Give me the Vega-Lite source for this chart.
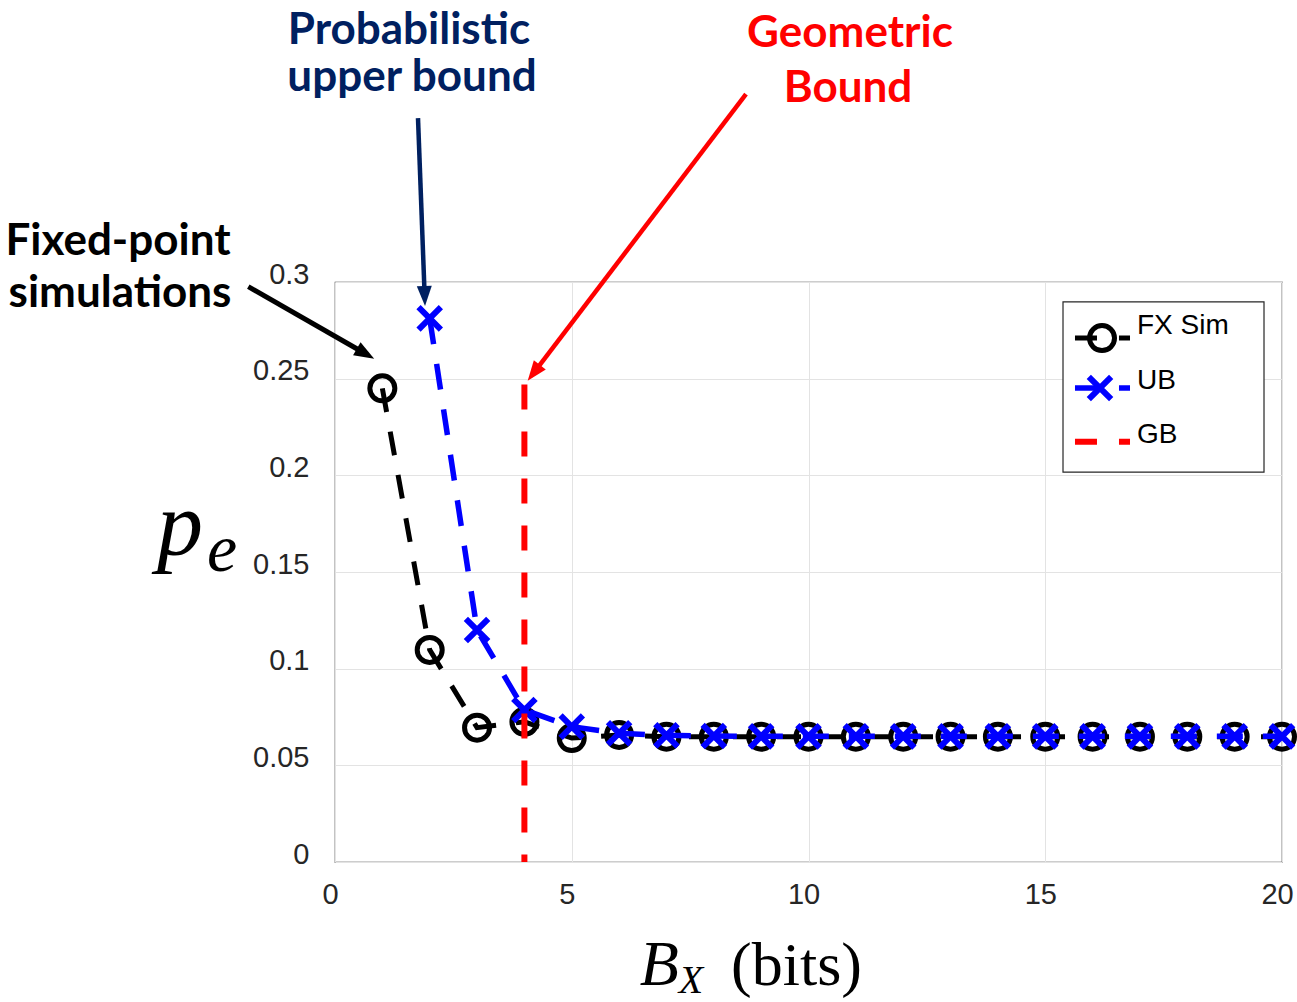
{
  "$schema": "https://vega.github.io/schema/vega-lite/v6.json",
  "width": 947,
  "height": 580,
  "autosize": {"type": "none"},
  "padding": {"left": 335, "top": 282, "right": 15, "bottom": 140},
  "background": "white",
  "config": {"view": {"stroke": "#3a3a3a", "strokeWidth": 1.2}, "font": "Liberation Sans"},
  "datasets": {
    "fx": [
      {"x": 1, "y": 0.245}, {"x": 2, "y": 0.1097}, {"x": 3, "y": 0.0695}, {"x": 4, "y": 0.0725},
      {"x": 5, "y": 0.0641}, {"x": 6, "y": 0.0657}, {"x": 7, "y": 0.0648}, {"x": 8, "y": 0.0648},
      {"x": 9, "y": 0.0648}, {"x": 10, "y": 0.0648}, {"x": 11, "y": 0.0648}, {"x": 12, "y": 0.0648},
      {"x": 13, "y": 0.0648}, {"x": 14, "y": 0.0648}, {"x": 15, "y": 0.0648}, {"x": 16, "y": 0.0648},
      {"x": 17, "y": 0.0648}, {"x": 18, "y": 0.0648}, {"x": 19, "y": 0.0648}, {"x": 20, "y": 0.0648}
    ],
    "ub": [
      {"x": 2, "y": 0.2812}, {"x": 3, "y": 0.12}, {"x": 4, "y": 0.0786}, {"x": 5, "y": 0.07},
      {"x": 6, "y": 0.0666}, {"x": 7, "y": 0.0655}, {"x": 8, "y": 0.0652}, {"x": 9, "y": 0.065},
      {"x": 10, "y": 0.065}, {"x": 11, "y": 0.065}, {"x": 12, "y": 0.065}, {"x": 13, "y": 0.065},
      {"x": 14, "y": 0.065}, {"x": 15, "y": 0.065}, {"x": 16, "y": 0.065}, {"x": 17, "y": 0.065},
      {"x": 18, "y": 0.065}, {"x": 19, "y": 0.065}, {"x": 20, "y": 0.065}
    ],
    "gb": [{"x": 4, "y": 0.247, "y2": 0}],
    "legBox": [{"x": 15.375, "x2": 19.62, "y": 0.2897, "y2": 0.2017}],
    "legFXline": [{"x": 15.628, "x2": 16.79, "y": 0.271}],
    "legFXpt": [{"x": 16.199, "y": 0.271}],
    "legUBline": [{"x": 15.628, "x2": 16.79, "y": 0.2452}],
    "legUBpt": [{"x": 16.156, "y": 0.2452}],
    "legGBline": [{"x": 15.628, "x2": 16.79, "y": 0.2174}],
    "legText": [
      {"x": 16.938, "y": 0.2731, "label": "FX Sim"},
      {"x": 16.938, "y": 0.2447, "label": "UB"},
      {"x": 16.938, "y": 0.2167, "label": "GB"}
    ],
    "arrNavy": [{"x": 1.7529, "y": 0.3848, "x2": 1.8936, "y2": 0.2928}],
    "headNavy": [{"x": 1.8936, "y": 0.2928}],
    "arrRed": [{"x": 8.68, "y": 0.3972, "x2": 4.1975, "y2": 0.253}],
    "headRed": [{"x": 4.1975, "y": 0.253}],
    "arrBlack": [{"x": -1.831, "y": 0.2976, "x2": 0.644, "y2": 0.2629}],
    "headBlack": [{"x": 0.644, "y": 0.2629}],
    "txtNavy": [
      {"x": 1.563, "y": 0.4231, "label": "Probabilistic"},
      {"x": 1.626, "y": 0.3988, "label": "upper bound"}
    ],
    "txtRed": [
      {"x": 10.876, "y": 0.4215, "label": "Geometric"},
      {"x": 10.834, "y": 0.3931, "label": "Bound"}
    ],
    "txtBlack": [
      {"x": -4.583, "y": 0.314, "label": "Fixed-point"},
      {"x": -4.541, "y": 0.2871, "label": "simulations"}
    ],
    "labP": [{"x": -3.273, "y": 0.1588, "label": "p"}],
    "labE": [{"x": -2.386, "y": 0.1505, "label": "e"}],
    "labB": [{"x": 6.85, "y": -0.0636, "label": "B"}],
    "labX": [{"x": 7.52, "y": -0.0675, "label": "X"}],
    "labBits": [{"x": 9.746, "y": -0.0636, "label": "(bits)"}]
  },
  "encoding": {
    "x": {
      "field": "x", "type": "quantitative",
      "scale": {"domain": [0, 20], "nice": false, "zero": false},
      "axis": {
        "values": [0, 5, 10, 15, 20], "title": null, "grid": true, "gridColor": "#e3e3e3", "gridWidth": 1,
        "domain": false, "ticks": false, "labelFont": "Liberation Sans", "labelFontSize": 29,
        "labelColor": "#262626", "labelPadding": 18, "labelOffset": -5, "labelFlush": false, "labelOverlap": false
      }
    },
    "y": {
      "field": "y", "type": "quantitative",
      "scale": {"domain": [0, 0.3], "nice": false, "zero": false},
      "axis": {
        "values": [0, 0.05, 0.1, 0.15, 0.2, 0.25, 0.3], "format": "~g", "title": null, "grid": true,
        "gridColor": "#e3e3e3", "gridWidth": 1, "domain": false, "ticks": false,
        "labelFont": "Liberation Sans", "labelFontSize": 29, "labelColor": "#262626",
        "labelPadding": 26, "labelOffset": -8, "labelFlush": false, "labelOverlap": false
      }
    }
  },
  "layer": [
    {"data": {"name": "fx"}, "mark": {"type": "line", "color": "black", "strokeWidth": 5, "strokeDash": [24, 20]}, "encoding": {}},
    {"data": {"name": "fx"}, "mark": {"type": "point", "shape": "circle", "filled": false, "color": "black", "strokeWidth": 5, "size": 625, "opacity": 1}, "encoding": {}},
    {"data": {"name": "ub"}, "mark": {"type": "line", "color": "#0000ff", "strokeWidth": 5.5, "strokeDash": [26, 20]}, "encoding": {}},
    {"data": {"name": "ub"}, "mark": {"type": "point", "shape": "M-1,-1L1,1M-1,1L1,-1", "filled": false, "color": "#0000ff", "strokeWidth": 6, "size": 500, "opacity": 1}, "encoding": {}},
    {"data": {"name": "gb"}, "mark": {"type": "rule", "color": "#ff0000", "strokeWidth": 6, "strokeDash": [25, 22]}, "encoding": {"y2": {"field": "y2"}}},
    {"data": {"name": "legBox"}, "mark": {"type": "rect", "fill": "white", "stroke": "#262626", "strokeWidth": 1.2}, "encoding": {"x2": {"field": "x2"}, "y2": {"field": "y2"}}},
    {"data": {"name": "legFXline"}, "mark": {"type": "rule", "color": "black", "strokeWidth": 5, "strokeDash": [22, 22]}, "encoding": {"x2": {"field": "x2"}}},
    {"data": {"name": "legFXpt"}, "mark": {"type": "point", "shape": "circle", "filled": false, "color": "black", "strokeWidth": 5, "size": 625, "opacity": 1}, "encoding": {}},
    {"data": {"name": "legUBline"}, "mark": {"type": "rule", "color": "#0000ff", "strokeWidth": 5.5, "strokeDash": [22, 22]}, "encoding": {"x2": {"field": "x2"}}},
    {"data": {"name": "legUBpt"}, "mark": {"type": "point", "shape": "M-1,-1L1,1M-1,1L1,-1", "filled": false, "color": "#0000ff", "strokeWidth": 6, "size": 500, "opacity": 1}, "encoding": {}},
    {"data": {"name": "legGBline"}, "mark": {"type": "rule", "color": "#ff0000", "strokeWidth": 6, "strokeDash": [22, 22]}, "encoding": {"x2": {"field": "x2"}}},
    {"data": {"name": "legText"}, "mark": {"type": "text", "align": "left", "baseline": "alphabetic", "font": "Liberation Sans", "fontSize": 28, "color": "black"}, "encoding": {"text": {"field": "label"}}},
    {"data": {"name": "arrNavy"}, "mark": {"type": "rule", "color": "#002060", "strokeWidth": 4.5}, "encoding": {"x2": {"field": "x2"}, "y2": {"field": "y2"}}},
    {"data": {"name": "headNavy"}, "mark": {"type": "point", "shape": "M0,-1L0.75,1L-0.75,1Z", "filled": true, "color": "#002060", "size": 400, "angle": 177.9, "opacity": 1}, "encoding": {}},
    {"data": {"name": "arrRed"}, "mark": {"type": "rule", "color": "#ff0000", "strokeWidth": 4.5}, "encoding": {"x2": {"field": "x2"}, "y2": {"field": "y2"}}},
    {"data": {"name": "headRed"}, "mark": {"type": "point", "shape": "M0,-1L0.75,1L-0.75,1Z", "filled": true, "color": "#ff0000", "size": 400, "angle": 217.3, "opacity": 1}, "encoding": {}},
    {"data": {"name": "arrBlack"}, "mark": {"type": "rule", "color": "black", "strokeWidth": 5}, "encoding": {"x2": {"field": "x2"}, "y2": {"field": "y2"}}},
    {"data": {"name": "headBlack"}, "mark": {"type": "point", "shape": "M0,-1L0.75,1L-0.75,1Z", "filled": true, "color": "black", "size": 400, "angle": 119.8, "opacity": 1}, "encoding": {}},
    {"data": {"name": "txtNavy"}, "mark": {"type": "text", "align": "center", "baseline": "alphabetic", "font": "Lato", "fontWeight": "bold", "fontSize": 44, "color": "#002060"}, "encoding": {"text": {"field": "label"}}},
    {"data": {"name": "txtRed"}, "mark": {"type": "text", "align": "center", "baseline": "alphabetic", "font": "Lato", "fontWeight": "bold", "fontSize": 44, "color": "#ff0000"}, "encoding": {"text": {"field": "label"}}},
    {"data": {"name": "txtBlack"}, "mark": {"type": "text", "align": "center", "baseline": "alphabetic", "font": "Lato", "fontWeight": "bold", "fontSize": 44, "color": "black"}, "encoding": {"text": {"field": "label"}}},
    {"data": {"name": "labP"}, "mark": {"type": "text", "align": "center", "baseline": "alphabetic", "font": "Liberation Serif", "fontStyle": "italic", "fontSize": 92, "color": "black"}, "encoding": {"text": {"field": "label"}}},
    {"data": {"name": "labE"}, "mark": {"type": "text", "align": "center", "baseline": "alphabetic", "font": "Liberation Serif", "fontStyle": "italic", "fontSize": 68, "color": "black"}, "encoding": {"text": {"field": "label"}}},
    {"data": {"name": "labB"}, "mark": {"type": "text", "align": "center", "baseline": "alphabetic", "font": "Liberation Serif", "fontStyle": "italic", "fontSize": 64, "color": "black"}, "encoding": {"text": {"field": "label"}}},
    {"data": {"name": "labX"}, "mark": {"type": "text", "align": "center", "baseline": "alphabetic", "font": "Liberation Serif", "fontStyle": "italic", "fontSize": 40, "color": "black"}, "encoding": {"text": {"field": "label"}}},
    {"data": {"name": "labBits"}, "mark": {"type": "text", "align": "center", "baseline": "alphabetic", "font": "Liberation Serif", "fontSize": 62, "color": "black"}, "encoding": {"text": {"field": "label"}}}
  ]
}
